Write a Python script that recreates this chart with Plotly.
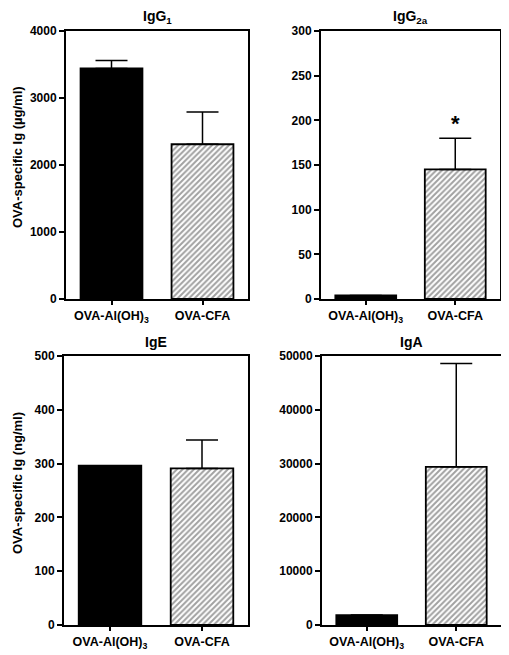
import plotly.graph_objects as go

groups = ["OVA-Al(OH)<sub>3</sub>", "OVA-CFA"]
panel_titles = ["IgG<sub>1</sub>", "IgG<sub>2a</sub>", "IgE", "IgA"]

igg1 = [3440, 2310]
igg1_err = [120, 480]
igg2a = [4, 145]
igg2a_err = [0, 35]
ige = [296, 291]
ige_err = [0, 53]
iga = [1850, 29400]
iga_err = [0, 19200]

y_ranges = [[0, 4000], [0, 300], [0, 500], [0, 50000]]
y_dticks = [1000, 50, 100, 10000]

OFF = 8  # page body margin
W, H = 509 - OFF, 655 - OFF
def fx(px):
    return (px - OFF) / W
def fy(px):
    return 1 - (px - OFF) / H

# panel boxes in screen pixels: (left, right, top, bottom)
boxes = [
    (66, 248, 31, 299),
    (321, 500, 31, 299),
    (64, 248, 356, 625),
    (322, 501, 356, 625),
]

font = "Liberation Sans, Arial, sans-serif"
fig = go.Figure()
data = [(igg1, igg1_err), (igg2a, igg2a_err), (ige, ige_err), (iga, iga_err)]

for i, (vals, errs) in enumerate(data):
    n = "" if i == 0 else str(i + 1)
    fig.add_trace(go.Bar(
        x=[0, 1], y=vals, width=0.68,
        xaxis="x" + n, yaxis="y" + n,
        marker=dict(color=["black", "white"],
                    line=dict(color="black", width=1.8),
                    pattern=dict(shape=["", "/"], fgcolor="#333333",
                                 bgcolor="white", size=4, solidity=0.5,
                                 fillmode="overlay")),
        error_y=dict(type="data", array=errs, arrayminus=[0, 0], symmetric=False,
                     color="black", thickness=1.5, width=16,
                     visible=True),
        showlegend=False,
    ))
    l, r, t, b = boxes[i]
    fig.layout["xaxis" + n] = dict(
        domain=[fx(l), fx(r)], range=[-0.5, 1.5], anchor="y" + n,
        tickvals=[0, 1], ticktext=groups, automargin=False,
        ticks="outside", ticklen=4, tickwidth=1.5, tickcolor="black",
        showline=True, mirror=True, linewidth=2, linecolor="black",
        showgrid=False, zeroline=False,
        tickfont=dict(family=font, size=12.5, color="black", weight="bold"),
    )
    fig.layout["yaxis" + n] = dict(
        domain=[fy(b), fy(t)], range=y_ranges[i], dtick=y_dticks[i],
        anchor="x" + n, automargin=False, tickformat="d",
        ticks="outside", ticklen=5, tickwidth=1.5, tickcolor="black",
        showline=True, mirror=True, linewidth=2, linecolor="black",
        showgrid=False, zeroline=False,
        tickfont=dict(family=font, size=12, color="black", weight="bold"),
    )
    fig.add_annotation(
        text="<b>%s</b>" % panel_titles[i], xref="paper", yref="paper",
        x=fx((l + r) / 2), y=fy(t - 14), xanchor="center", yanchor="middle",
        showarrow=False, borderpad=0,
        font=dict(family=font, size=14, color="black"),
    )

fig.add_annotation(text="<b>OVA-specific Ig (\u00b5g/ml)</b>", xref="paper", yref="paper",
                   x=fx(17), y=fy(157), textangle=-90, showarrow=False,
                   xanchor="center", yanchor="middle", borderpad=0,
                   font=dict(family=font, size=13, color="black"))
fig.add_annotation(text="<b>OVA-specific Ig (ng/ml)</b>", xref="paper", yref="paper",
                   x=fx(17), y=fy(483), textangle=-90, showarrow=False,
                   xanchor="center", yanchor="middle", borderpad=0,
                   font=dict(family=font, size=13, color="black"))
# significance asterisk
fig.add_annotation(text="<b>*</b>", xref="x2", yref="y2", x=1, y=196,
                   showarrow=False, font=dict(family=font, size=22, color="black"))

fig.update_layout(
    template="none",
    width=W, height=H, margin=dict(l=0, r=0, t=0, b=0),
    paper_bgcolor="white", plot_bgcolor="white",
    barmode="overlay",
)
fig.write_html("out.html")
